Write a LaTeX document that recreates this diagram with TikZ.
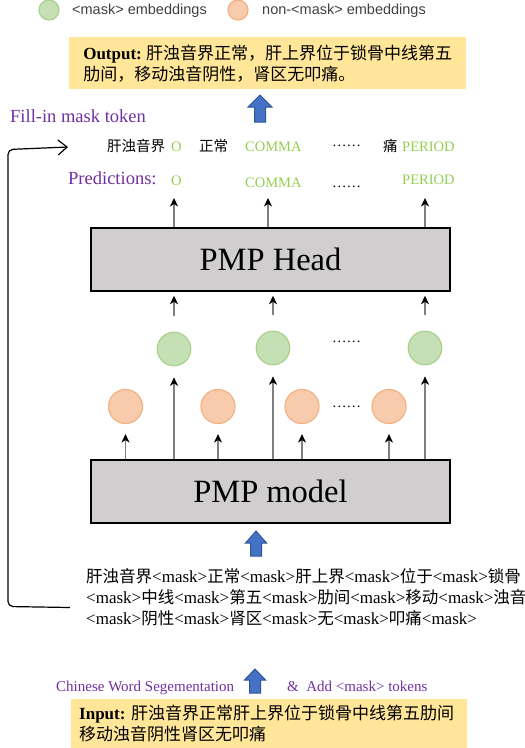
\documentclass[tikz,border=0pt]{standalone}
\usepackage{fontspec}
\setmainfont{Liberation Serif}
\setsansfont{Liberation Sans}
\newfontfamily\cjk{Noto Sans CJK SC}
\usetikzlibrary{arrows.meta,calc}
\definecolor{pgreen}{HTML}{92D050}
\definecolor{ppurple}{HTML}{7030A0}
\definecolor{yfill}{HTML}{FFE699}
\definecolor{gfill}{HTML}{C5E0B4}
\definecolor{gedge}{HTML}{A9D18E}
\definecolor{ofill}{HTML}{F8CBAD}
\definecolor{oedge}{HTML}{F4B183}
\definecolor{boxgray}{HTML}{D0CECE}
\definecolor{bfill}{HTML}{4472C4}
\definecolor{bedge}{HTML}{2F5597}
\definecolor{legtxt}{HTML}{404040}
\definecolor{shaft}{HTML}{7F7F7F}
\newcommand\zh[1]{{\cjk #1}}
\newcommand\zm[1]{{\cjk\fontsize{16.5}{21}\selectfont #1}}
\newcommand\mk{<mask>}
\newcommand\blockup[5]{%
  \filldraw[blockarr] (#1,#2) -- (#1+#5,#3) -- (#1+5.5,#3) -- (#1+5.5,#4)
    -- (#1-5.5,#4) -- (#1-5.5,#3) -- (#1-#5,#3) -- cycle;}
\begin{document}
\begin{tikzpicture}[x=1pt,y=-1pt,
  txt/.style={inner sep=0pt, anchor=base west},
  tok/.style={txt, font=\fontsize{14.5}{17}\selectfont},
  gtok/.style={tok, text=pgreen},
  purp/.style={txt, text=ppurple},
  legend/.style={txt, text=legtxt, font=\sffamily\fontsize{14.5}{17}\selectfont},
  gcirc/.style={circle, minimum size=33.5pt, inner sep=0pt, fill=gfill, draw=gedge, line width=1.2pt},
  ocirc/.style={circle, minimum size=34pt, inner sep=0pt, fill=ofill, draw=oedge, line width=1.2pt},
  legg/.style={gcirc, minimum size=20pt},
  lego/.style={ocirc, minimum size=20pt},
  ybox/.style={fill=yfill, inner ysep=0pt, align=left, font=\fontsize{17}{21}\selectfont},
  pmpbox/.style={fill=boxgray, draw=black, line width=1.5pt, minimum width=359pt, minimum height=63pt, inner sep=0pt, font=\fontsize{32.5}{36}\selectfont},
  arr/.style={draw=shaft, line width=1.1pt, -{Stealth[length=8.5pt,width=8pt,inset=2.5pt,color=black]}},
  blockarr/.style={fill=bfill, draw=bedge, line width=1pt, line join=miter},
  loopline/.style={draw=black, line width=1.2pt, rounded corners=5pt, -{Straight Barb[length=9pt,width=15pt,line width=1.2pt]}},
  mline/.style={txt, font=\fontsize{17}{21}\selectfont}
]
\useasboundingbox (0,0) rectangle (525,748);

% legend
\node[legg] (lg) at (49,10) {};
\node[legend] (lgt) at (72,14.5) {<mask> embeddings};
\node[lego] (lo) at (238,10) {};
\node[legend] (lot) at (262,14.5) {non-<mask> embeddings};

% output box
\node[ybox, anchor=north west, minimum width=397pt, minimum height=52pt, inner xsep=14pt] (out) at (69,37)
  {\textbf{Output:}~\zh{肝浊音界正常，肝上界位于锁骨中线第五}\\\zh{肋间，移动浊音阴性，肾区无叩痛。}};

\blockup{260}{95}{107}{122}{12}

\node[purp, font=\fontsize{18.5}{21}\selectfont] (fill) at (10,122) {Fill-in mask token};

% row 1: filled tokens
\node[tok] (r1a) at (107,151) {\zh{肝浊音界}};
\node[gtok] (r1b) at (171,151) {O};
\node[tok] (r1c) at (199,151) {\zh{正常}};
\node[gtok] (r1d) at (245,151) {COMMA};
\node[tok] (r1e) at (332,146.5) {……};
\node[tok] (r1f) at (383,151) {\zh{痛}};
\node[gtok] (r1g) at (402,151) {PERIOD};

% row 2: predictions
\node[purp, font=\fontsize{18.5}{21}\selectfont] (pred) at (68,184) {Predictions:};
\node[gtok] (pO) at (171,185) {O};
\node[gtok] (pC) at (245,187) {COMMA};
\node[tok] (pD) at (332,187) {……};
\node[gtok] (pP) at (402,184) {PERIOD};
\coordinate (ptip) at (0,198);

% PMP head
\node[pmpbox] (head) at (270.5,259.5) {PMP Head};

% embeddings
\node[gcirc] (g1) at (174,349) {};
\node[gcirc] (g2) at (273,348) {};
\node[gcirc] (g3) at (425,348) {};
\node[ocirc] (o1) at (125.5,406.5) {};
\node[ocirc] (o2) at (218,406.5) {};
\node[ocirc] (o3) at (302,406.5) {};
\node[ocirc] (o4) at (389,406.5) {};
\node[tok] (dg) at (332,342.5) {……};
\node[tok] (do) at (332,407.5) {……};

% PMP model
\node[pmpbox] (model) at (270.5,491.5) {PMP model};

% arrows head -> predictions
\draw[arr] (head.north -| g1) -- (g1 |- ptip);
\draw[arr] ([xshift=-5pt]head.north -| g2) -- ([xshift=-5pt]g2 |- ptip);
\draw[arr] (head.north -| g3) -- (g3 |- ptip);
% arrows mask embeddings -> head
\foreach \g in {g1,g2,g3}
  \draw[arr, shorten <=16pt, shorten >=4pt] (\g.north) -- (\g |- head.south);
% arrows model -> embeddings
\foreach \g in {g1,g2,g3}
  \draw[arr, shorten >=11pt] (\g |- model.north) -- (\g.south);
\foreach \o in {o1,o2,o3,o4}
  \draw[arr, shorten >=10pt] (\o |- model.north) -- (\o.south);

\blockup{256}{531}{543}{556}{10.5}

% masked input
\node[mline] (m1) at (86,582) {\zm{肝浊音界}\mk\zm{正常}\mk\zm{肝上界}\mk\zm{位于}\mk\zm{锁骨}};
\node[mline] (m2) at (86,603) {\mk\zm{中线}\mk\zm{第五}\mk\zm{肋间}\mk\zm{移动}\mk\zm{浊音}};
\node[mline] (m3) at (86,624) {\mk\zm{阴性}\mk\zm{肾区}\mk\zm{无}\mk\zm{叩痛}\mk};

% loop arrow
\coordinate (loopa) at (70,607.5);
\coordinate (loopb) at (68,147);
\draw[loopline] (loopa) -- (8,606.5) -- (8,149.5) -- (loopb);

% bottom labels
\node[purp, font=\fontsize{15}{18}\selectfont] (cws) at (56,691) {Chinese Word Segementation};
\blockup{255}{669}{680}{693}{10.5}
\node[purp, font=\fontsize{15}{18}\selectfont] (addm) at (287,691) {\&\ \ Add <mask> tokens};

% input box
\node[ybox, anchor=north west, minimum width=396pt, minimum height=49pt, inner xsep=8pt, text width=380pt] (in) at (71,699)
  {\textbf{Input:}~\zh{肝浊音界正常肝上界位于锁骨中线第五肋间}\\\zh{移动浊音阴性肾区无叩痛}};
\end{tikzpicture}
\end{document}
